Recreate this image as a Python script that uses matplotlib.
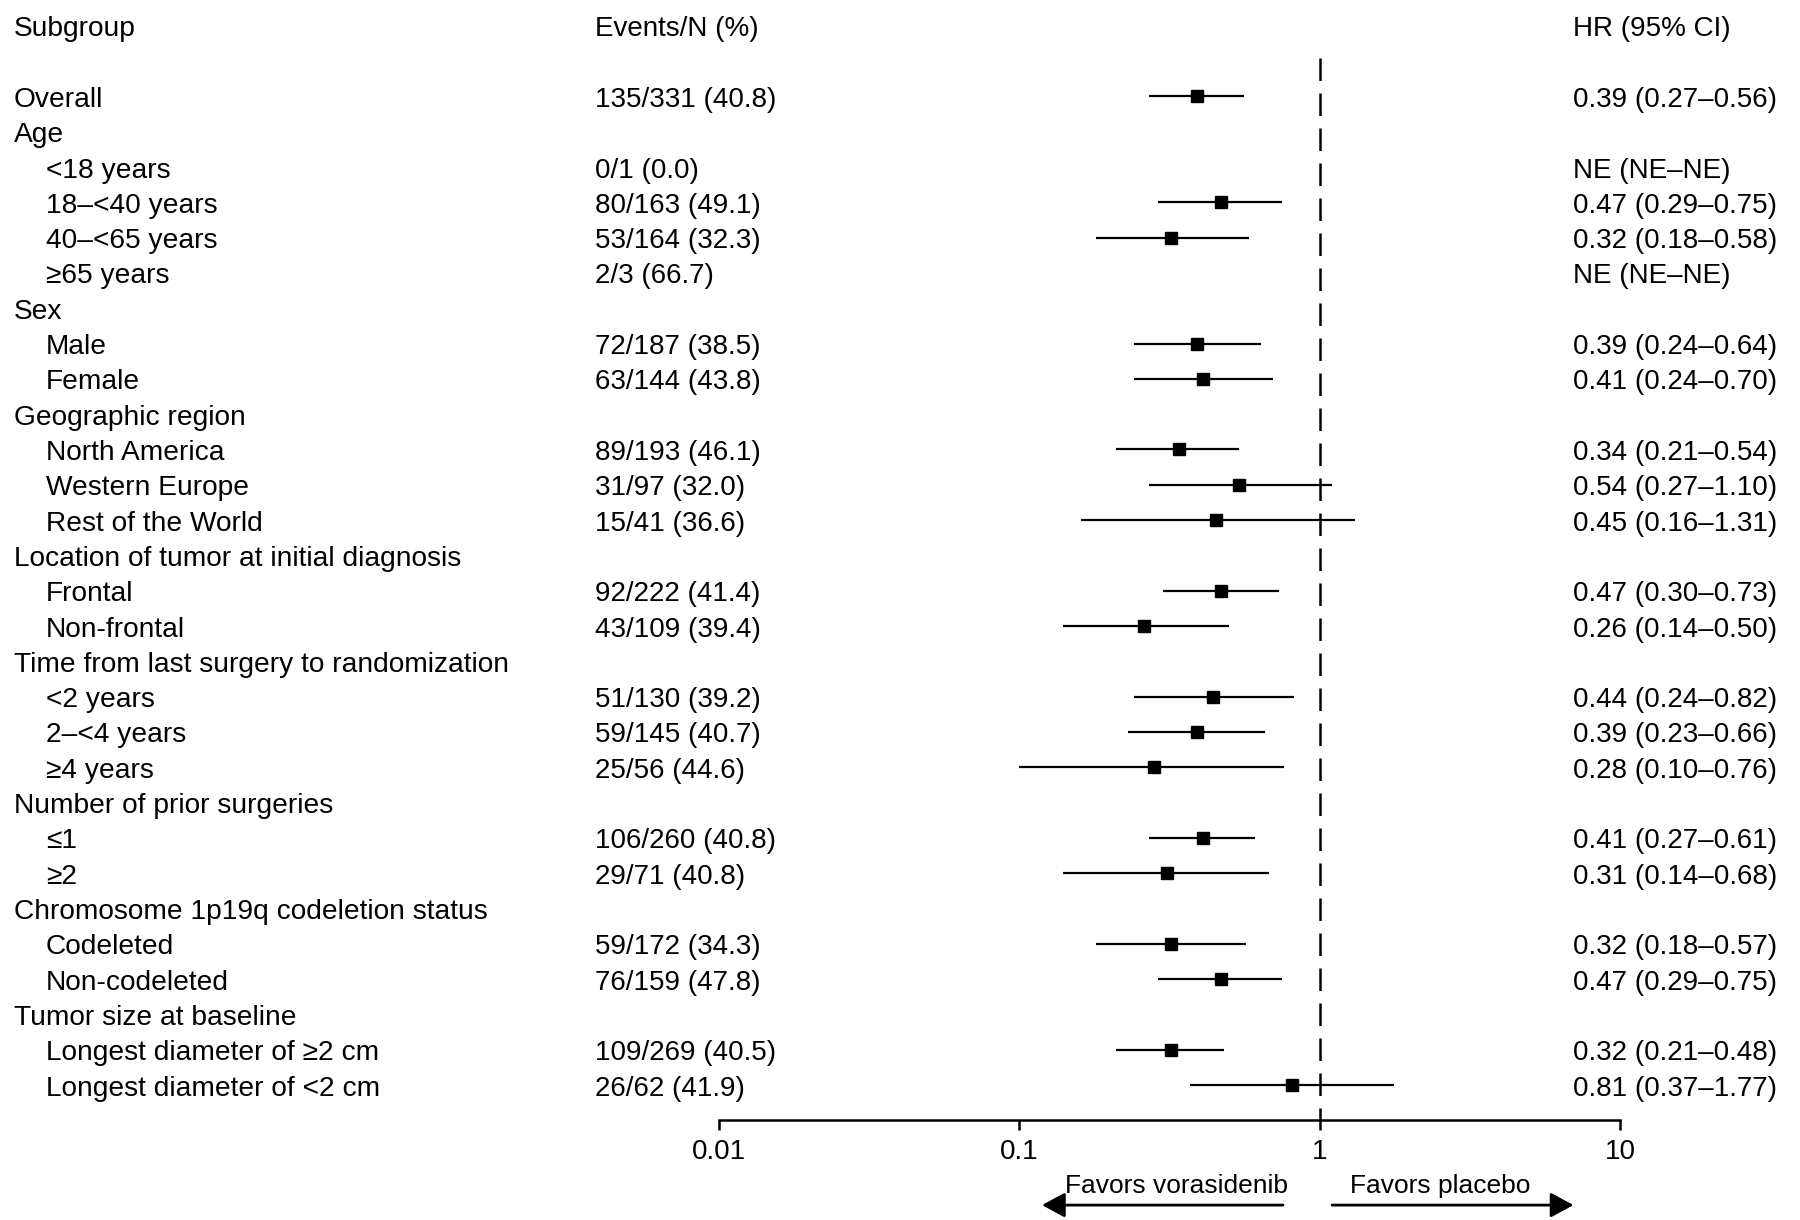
import matplotlib
matplotlib.use("Agg")
import matplotlib.pyplot as plt
from matplotlib.transforms import blended_transform_factory

plt.rcParams['font.family'] = ['Liberation Sans', 'DejaVu Sans']

# Forest plot data (None = not estimable / category header)
subgroups = [
    "Overall", "Age", "<18 years", "18\u2013<40 years", "40\u2013<65 years", "\u226565 years",
    "Sex", "Male", "Female",
    "Geographic region", "North America", "Western Europe", "Rest of the World",
    "Location of tumor at initial diagnosis", "Frontal", "Non-frontal",
    "Time from last surgery to randomization", "<2 years", "2\u2013<4 years", "\u22654 years",
    "Number of prior surgeries", "\u22641", "\u22652",
    "Chromosome 1p19q codeletion status", "Codeleted", "Non-codeleted",
    "Tumor size at baseline", "Longest diameter of \u22652 cm", "Longest diameter of <2 cm",
]
indented = [
    False, False, True, True, True, True,
    False, True, True,
    False, True, True, True,
    False, True, True,
    False, True, True, True,
    False, True, True,
    False, True, True,
    False, True, True,
]
events = [
    "135/331 (40.8)", "", "0/1 (0.0)", "80/163 (49.1)", "53/164 (32.3)", "2/3 (66.7)",
    "", "72/187 (38.5)", "63/144 (43.8)",
    "", "89/193 (46.1)", "31/97 (32.0)", "15/41 (36.6)",
    "", "92/222 (41.4)", "43/109 (39.4)",
    "", "51/130 (39.2)", "59/145 (40.7)", "25/56 (44.6)",
    "", "106/260 (40.8)", "29/71 (40.8)",
    "", "59/172 (34.3)", "76/159 (47.8)",
    "", "109/269 (40.5)", "26/62 (41.9)",
]
hr = [0.39, None, "NE", 0.47, 0.32, "NE",
      None, 0.39, 0.41,
      None, 0.34, 0.54, 0.45,
      None, 0.47, 0.26,
      None, 0.44, 0.39, 0.28,
      None, 0.41, 0.31,
      None, 0.32, 0.47,
      None, 0.32, 0.81]
ci_lo = [0.27, None, None, 0.29, 0.18, None,
         None, 0.24, 0.24,
         None, 0.21, 0.27, 0.16,
         None, 0.30, 0.14,
         None, 0.24, 0.23, 0.10,
         None, 0.27, 0.14,
         None, 0.18, 0.29,
         None, 0.21, 0.37]
ci_hi = [0.56, None, None, 0.75, 0.58, None,
         None, 0.64, 0.70,
         None, 0.54, 1.10, 1.31,
         None, 0.73, 0.50,
         None, 0.82, 0.66, 0.76,
         None, 0.61, 0.68,
         None, 0.57, 0.75,
         None, 0.48, 1.77]

W, H = 1800, 1220
FS = 20
FS_SUB = 20.25
DY = 0.1  # small downward nudge so text sits level with the markers

fig = plt.figure(figsize=(W / 100, H / 100), dpi=100)
ax = fig.add_axes([719 / W, 1 - 1120 / H, 901 / W, 1120 / H])
ax.set_xscale('log')
ax.set_xlim(0.01, 10)
ax.set_ylim(28.99, -2.73)

for i in range(len(subgroups)):
    if isinstance(hr[i], float):
        ax.plot([ci_lo[i], ci_hi[i]], [i, i], color='black', lw=1.6, solid_capstyle='butt')
        ax.plot(hr[i], i, marker='s', ms=9, color='black', ls='none')

# reference line at HR = 1
ax.plot([1, 1], [-1.08, 28.99], color='black', lw=1.8, ls=(0, (9, 5)))

for s in ['top', 'left', 'right']:
    ax.spines[s].set_visible(False)
ax.spines['bottom'].set_linewidth(1.8)
ax.set_xticks([0.01, 0.1, 1, 10])
ax.set_xticklabels(['0.01', '0.1', '1', '10'])
ax.minorticks_off()
ax.tick_params(axis='x', length=7, width=1.8, labelsize=FS, pad=7)
ax.set_yticks([])

# text columns
trans = blended_transform_factory(fig.transFigure, ax.transData)
ax.text(14 / W, -2 + DY, "Subgroup", transform=trans, va='center', fontsize=FS_SUB)
ax.text(595 / W, -2 + DY, "Events/N (%)", transform=trans, va='center', fontsize=FS)
ax.text(1573 / W, -2 + DY, "HR (95% CI)", transform=trans, va='center', fontsize=FS)

for i, name in enumerate(subgroups):
    x0 = 46 if indented[i] else 14
    ax.text(x0 / W, i + DY, name, transform=trans, va='center', fontsize=FS_SUB)
    if events[i]:
        ax.text(595 / W, i + DY, events[i], transform=trans, va='center', fontsize=FS)
    if hr[i] == "NE":
        ax.text(1573 / W, i + DY, "NE (NE\u2013NE)", transform=trans, va='center', fontsize=FS)
    elif hr[i] is not None:
        ax.text(1573 / W, i + DY, f"{hr[i]:.2f} ({ci_lo[i]:.2f}\u2013{ci_hi[i]:.2f})",
                transform=trans, va='center', fontsize=FS)

# direction arrows
ax.text(1065 / W, 30.85, "Favors vorasidenib", transform=trans, va='center', fontsize=19)
ax.text(1350 / W, 30.85, "Favors placebo", transform=trans, va='center', fontsize=19)
arrow = dict(arrowstyle='-|>,head_length=0.7,head_width=0.38', color='black', lw=2,
             mutation_scale=20, shrinkA=0, shrinkB=0)
ax.annotate('', xy=(0.119, 31.4), xytext=(0.755, 31.4), arrowprops=arrow,
            annotation_clip=False)
ax.annotate('', xy=(7.0, 31.4), xytext=(1.1, 31.4), arrowprops=arrow,
            annotation_clip=False)

fig.savefig('out.png', dpi=100)
